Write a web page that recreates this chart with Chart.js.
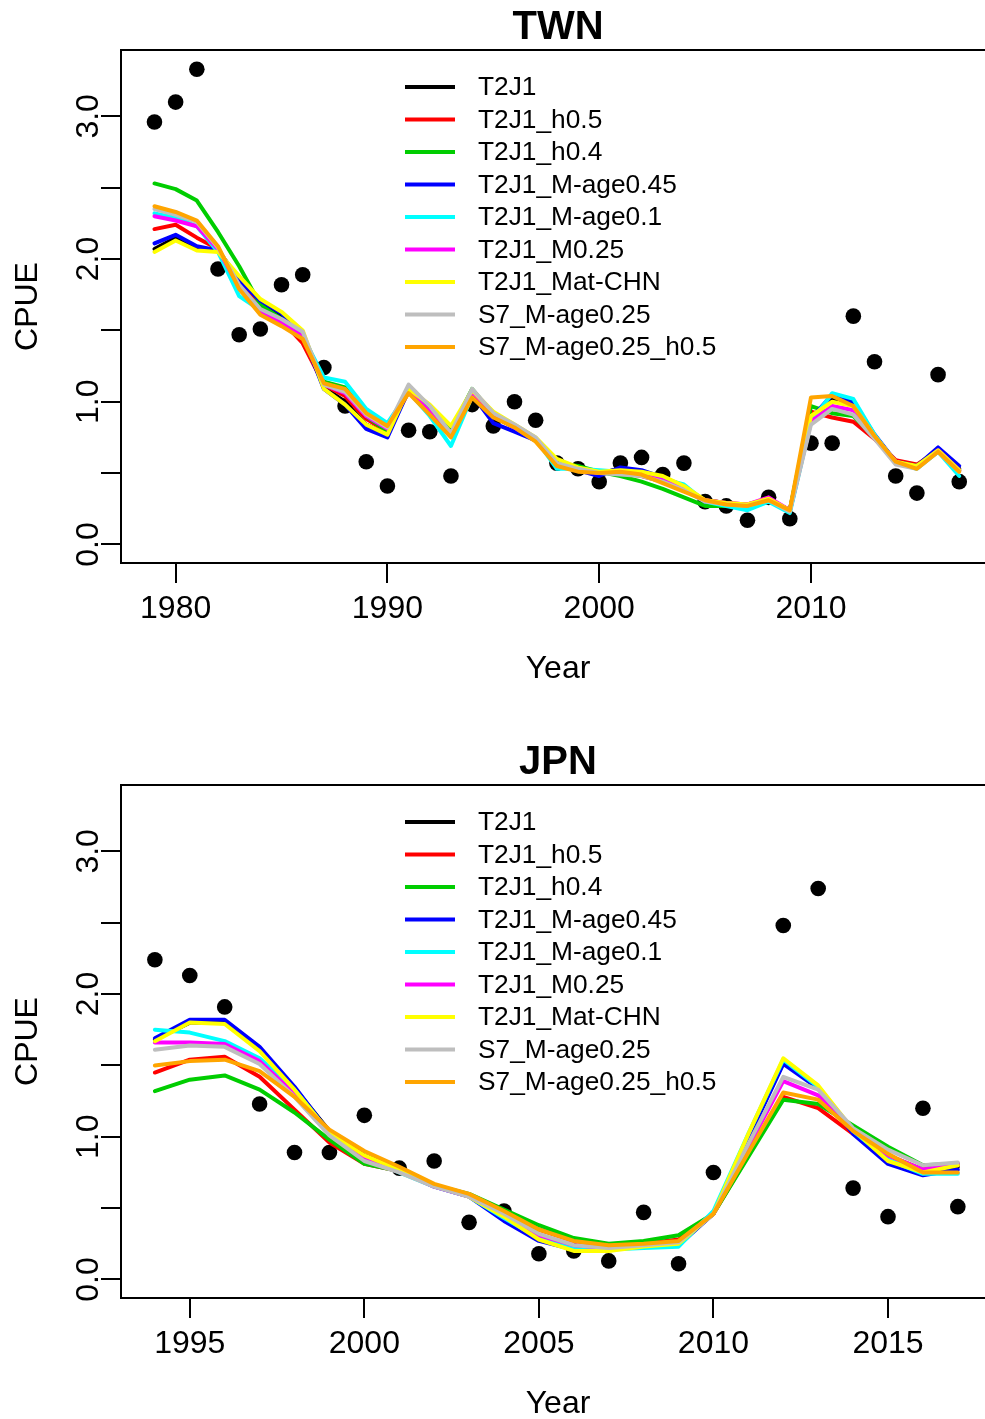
<!DOCTYPE html>
<html>
<head>
<meta charset="utf-8">
<script src="https://cdn.jsdelivr.net/npm/chart.js@4.4.1/dist/chart.umd.min.js"></script>
<style>
  html, body { margin: 0; padding: 0; background: #fff; width: 985px; height: 1419px; overflow: hidden; position: relative; }
  canvas { position: absolute; left: 0; }
  #twn { top: 0; }
  #jpn { top: 735px; }
</style>
</head>
<body>
<canvas id="twn" width="1000" height="735"></canvas>
<canvas id="jpn" width="1000" height="684"></canvas>
<script>
// model runs, same order as the legend
const runNames = ['T2J1', 'T2J1_h0.5', 'T2J1_h0.4', 'T2J1_M-age0.45', 'T2J1_M-age0.1',
    'T2J1_M0.25', 'T2J1_Mat-CHN', 'S7_M-age0.25', 'S7_M-age0.25_h0.5'];
const runColors = ['#000000', '#FF0000', '#00CD00', '#0000FF', '#00FFFF',
    '#FF00FF', '#FFFF00', '#BEBEBE', '#FFA500'];

const yTicks = [0, 0.5, 1, 1.5, 2, 2.5, 3];
const yLabels = [0, 1, 2, 3];

// ---- TWN ----
const twnYears = [];
for (let y = 1979; y <= 2017; y++) twnYears.push(y);
const twnXTicks = [1980, 1990, 2000, 2010];
const twnObs = [2.96, 3.10, 3.33, 1.93, 1.47, 1.51, 1.82, 1.89, 1.24, 0.97, 0.58, 0.41, 0.80, 0.79, 0.48, 0.98, 0.83, 1.00, 0.87, 0.57,
    0.53, 0.44, 0.57, 0.61, 0.49, 0.57, 0.30, 0.27, 0.17, 0.33, 0.18, 0.71, 0.71, 1.60, 1.28, 0.48, 0.36, 1.19, 0.44];
const twnT2J1 = [2.07, 2.15, 2.07, 2.06, 1.86, 1.70, 1.60, 1.47, 1.10, 1.00, 0.84, 0.77, 1.09, 0.95, 0.80, 1.06, 0.90, 0.82, 0.74, 0.58,
    0.53, 0.50, 0.53, 0.51, 0.46, 0.40, 0.31, 0.29, 0.27, 0.32, 0.24, 0.88, 1.02, 0.99, 0.76, 0.58, 0.54, 0.67, 0.53];
const twnH05 = [2.21, 2.24, 2.15, 2.07, 1.84, 1.67, 1.57, 1.41, 1.12, 1.04, 0.88, 0.79, 1.07, 0.95, 0.82, 1.06, 0.90, 0.82, 0.73, 0.56,
    0.52, 0.50, 0.50, 0.48, 0.44, 0.38, 0.31, 0.29, 0.28, 0.32, 0.24, 0.93, 0.89, 0.86, 0.74, 0.59, 0.56, 0.66, 0.52];
const twnH04 = [2.53, 2.49, 2.41, 2.19, 1.95, 1.68, 1.58, 1.47, 1.14, 1.10, 0.90, 0.79, 1.08, 0.94, 0.80, 1.09, 0.91, 0.83, 0.74, 0.57,
    0.55, 0.51, 0.48, 0.44, 0.39, 0.33, 0.27, 0.27, 0.27, 0.31, 0.24, 0.97, 0.92, 0.90, 0.75, 0.57, 0.54, 0.65, 0.52];
const twnMage045 = [2.11, 2.17, 2.09, 2.06, 1.85, 1.71, 1.62, 1.47, 1.09, 0.98, 0.81, 0.75, 1.08, 0.92, 0.78, 1.05, 0.85, 0.79, 0.73, 0.57,
    0.52, 0.48, 0.54, 0.52, 0.47, 0.41, 0.30, 0.28, 0.27, 0.32, 0.23, 0.88, 1.05, 1.00, 0.77, 0.58, 0.55, 0.68, 0.55];
const twnMage01 = [2.32, 2.29, 2.23, 2.05, 1.74, 1.64, 1.56, 1.46, 1.17, 1.14, 0.95, 0.85, 1.07, 0.90, 0.69, 1.04, 0.90, 0.83, 0.74, 0.53,
    0.53, 0.52, 0.51, 0.50, 0.46, 0.42, 0.30, 0.27, 0.24, 0.30, 0.22, 0.86, 1.06, 1.02, 0.77, 0.57, 0.53, 0.65, 0.48];
const twnM025 = [2.30, 2.27, 2.23, 2.07, 1.80, 1.63, 1.55, 1.46, 1.12, 1.06, 0.90, 0.81, 1.08, 0.93, 0.78, 1.07, 0.90, 0.82, 0.73, 0.56,
    0.52, 0.50, 0.51, 0.49, 0.45, 0.39, 0.31, 0.29, 0.28, 0.33, 0.24, 0.86, 0.97, 0.94, 0.75, 0.58, 0.54, 0.66, 0.52];
const twnMatCHN = [2.05, 2.13, 2.06, 2.05, 1.88, 1.72, 1.63, 1.50, 1.09, 0.98, 0.84, 0.77, 1.09, 0.98, 0.83, 1.08, 0.93, 0.84, 0.75, 0.60,
    0.54, 0.51, 0.52, 0.51, 0.48, 0.41, 0.31, 0.29, 0.28, 0.32, 0.24, 0.90, 1.00, 0.97, 0.76, 0.58, 0.55, 0.66, 0.52];
const twnS7 = [2.35, 2.31, 2.26, 2.08, 1.82, 1.65, 1.58, 1.49, 1.12, 1.07, 0.91, 0.82, 1.12, 0.97, 0.78, 1.09, 0.92, 0.84, 0.75, 0.57,
    0.53, 0.50, 0.49, 0.48, 0.44, 0.38, 0.30, 0.28, 0.27, 0.31, 0.23, 0.84, 0.95, 0.91, 0.74, 0.56, 0.53, 0.65, 0.51];
const twnS7h05 = [2.37, 2.33, 2.27, 2.09, 1.79, 1.61, 1.53, 1.44, 1.13, 1.09, 0.92, 0.83, 1.06, 0.91, 0.75, 1.03, 0.89, 0.82, 0.72, 0.55,
    0.51, 0.50, 0.51, 0.49, 0.43, 0.37, 0.31, 0.28, 0.27, 0.31, 0.24, 1.03, 1.04, 0.97, 0.76, 0.58, 0.53, 0.65, 0.51];

// ---- JPN ----
const jpnYears = [];
for (let y = 1994; y <= 2017; y++) jpnYears.push(y);
const jpnXTicks = [1995, 2000, 2005, 2010, 2015];
const jpnObs = [2.24, 2.13, 1.91, 1.23, 0.89, 0.89, 1.15, 0.78, 0.83, 0.40, 0.48, 0.18, 0.20, 0.13, 0.47, 0.11, 0.75, null,
    2.48, 2.74, 0.64, 0.44, 1.20, 0.51];
const jpnT2J1 = [1.68, 1.80, 1.80, 1.61, 1.34, 1.04, 0.87, 0.77, 0.66, 0.59, 0.44, 0.29, 0.21, 0.21, 0.24, 0.26, 0.46, 1.00,
    1.52, 1.35, 1.04, 0.83, 0.75, 0.79];
const jpnH05 = [1.45, 1.54, 1.56, 1.42, 1.19, 0.96, 0.81, 0.76, 0.66, 0.59, 0.47, 0.35, 0.27, 0.24, 0.25, 0.28, 0.46, 0.87,
    1.28, 1.20, 1.02, 0.87, 0.77, 0.80];
const jpnH04 = [1.32, 1.40, 1.43, 1.33, 1.17, 0.98, 0.81, 0.76, 0.66, 0.60, 0.49, 0.38, 0.29, 0.25, 0.27, 0.31, 0.46, 0.86,
    1.26, 1.23, 1.08, 0.93, 0.80, 0.81];
const jpnMage045 = [1.69, 1.82, 1.82, 1.63, 1.35, 1.03, 0.86, 0.76, 0.65, 0.58, 0.41, 0.27, 0.21, 0.21, 0.23, 0.24, 0.46, 0.99,
    1.51, 1.34, 1.02, 0.81, 0.73, 0.77];
const jpnMage01 = [1.75, 1.73, 1.67, 1.55, 1.33, 1.03, 0.86, 0.75, 0.65, 0.58, 0.43, 0.29, 0.22, 0.21, 0.22, 0.23, 0.48, 1.02,
    1.54, 1.35, 1.04, 0.84, 0.74, 0.74];
const jpnM025 = [1.66, 1.66, 1.65, 1.53, 1.30, 1.02, 0.85, 0.76, 0.65, 0.58, 0.45, 0.31, 0.24, 0.22, 0.24, 0.26, 0.46, 0.93,
    1.39, 1.29, 1.05, 0.87, 0.77, 0.81];
const jpnMatCHN = [1.67, 1.80, 1.79, 1.60, 1.33, 1.03, 0.87, 0.77, 0.66, 0.58, 0.44, 0.28, 0.20, 0.20, 0.23, 0.25, 0.46, 1.02,
    1.55, 1.36, 1.05, 0.83, 0.75, 0.80];
const jpnS7 = [1.61, 1.64, 1.63, 1.51, 1.28, 1.01, 0.83, 0.75, 0.65, 0.58, 0.46, 0.32, 0.24, 0.22, 0.24, 0.26, 0.46, 0.95,
    1.42, 1.33, 1.06, 0.91, 0.80, 0.82];
const jpnS7h05 = [1.50, 1.53, 1.54, 1.46, 1.28, 1.05, 0.90, 0.79, 0.67, 0.60, 0.48, 0.35, 0.27, 0.24, 0.25, 0.27, 0.46, 0.89,
    1.31, 1.26, 1.04, 0.88, 0.75, 0.75];

const FONT = '"Liberation Sans", Arial, Helvetica, sans-serif';

// R-style decorations: box, titles, tick labels, legend
const rDecor = {
    id: 'rDecor',
    afterDraw(chart, args, opts) {
        const ctx = chart.ctx;
        const a = chart.chartArea;
        const xs = chart.scales.x;
        const ys = chart.scales.y;
        const midX = (a.left + a.right) / 2;
        const midY = (a.top + a.bottom) / 2;
        ctx.save();
        ctx.strokeStyle = '#000';
        ctx.lineWidth = 2;
        ctx.strokeRect(a.left, a.top, a.right - a.left, a.bottom - a.top);

        ctx.fillStyle = '#000';
        ctx.textAlign = 'center';
        ctx.textBaseline = 'alphabetic';
        ctx.font = 'bold 40px ' + FONT;
        ctx.fillText(opts.title, midX + 2, 39);

        ctx.font = '32px ' + FONT;
        opts.xTicks.forEach(v => ctx.fillText(String(v), xs.getPixelForValue(v), a.bottom + 55));
        ctx.fillText('Year', midX + 2, a.bottom + 115);

        yLabels.forEach(v => {
            ctx.save();
            ctx.translate(a.left - 23, ys.getPixelForValue(v));
            ctx.rotate(-Math.PI / 2);
            ctx.fillText(v.toFixed(1), 0, 0);
            ctx.restore();
        });
        ctx.save();
        ctx.translate(37, midY);
        ctx.rotate(-Math.PI / 2);
        ctx.fillText('CPUE', 0, 0);
        ctx.restore();

        // legend, no box
        ctx.font = '26.3px ' + FONT;
        ctx.textAlign = 'left';
        ctx.textBaseline = 'middle';
        ctx.lineWidth = 4;
        runNames.forEach((name, i) => {
            const y = a.top + 37 + i * 32.5;
            ctx.strokeStyle = runColors[i];
            ctx.beginPath();
            ctx.moveTo(a.left + 284, y);
            ctx.lineTo(a.left + 334, y);
            ctx.stroke();
            ctx.fillStyle = '#000';
            ctx.fillText(name, a.left + 357, y + 1);
        });
        ctx.restore();
    }
};

function makeChart(id, title, years, xTicks, xMin, xMax, obs, runs) {
    const H = document.getElementById(id).height;
    const datasets = runs.map((vals, i) => ({
        label: runNames[i],
        data: years.map((yr, k) => ({ x: yr, y: vals[k] })),
        borderColor: runColors[i],
        backgroundColor: runColors[i],
        borderWidth: 4,
        pointRadius: 0,
        tension: 0,
        borderJoinStyle: 'round',
        borderCapStyle: 'round',
        order: runs.length - 1 - i
    }));
    datasets.push({
        label: 'obs',
        data: years.map((yr, k) => ({ x: yr, y: obs[k] })),
        showLine: false,
        pointRadius: 7.8,
        pointBorderWidth: 0,
        pointBackgroundColor: '#000',
        borderColor: '#000',
        order: runs.length + 1
    });

    return new Chart(document.getElementById(id), {
        type: 'line',
        data: { datasets: datasets },
        plugins: [rDecor],
        options: {
            responsive: false,
            animation: false,
            devicePixelRatio: 1,
            layout: { padding: { left: 0, top: 50, right: 9, bottom: 0 } },
            plugins: {
                legend: { display: false },
                tooltip: { enabled: false },
                rDecor: { title: title, xTicks: xTicks }
            },
            scales: {
                x: {
                    type: 'linear',
                    min: xMin,
                    max: xMax,
                    afterBuildTicks: s => { s.ticks = xTicks.map(v => ({ value: v })); },
                    afterFit: s => { s.height = H - 563; },
                    ticks: { callback: () => '', autoSkip: false },
                    grid: { drawOnChartArea: false, drawTicks: true, tickLength: 20, color: '#000', lineWidth: 2 },
                    border: { display: true, color: '#000', width: 2 }
                },
                y: {
                    min: -0.13,
                    max: 3.465,
                    afterBuildTicks: s => { s.ticks = yTicks.map(v => ({ value: v })); },
                    afterFit: s => { s.width = 121; },
                    ticks: { callback: () => '', autoSkip: false },
                    grid: { drawOnChartArea: false, drawTicks: true, tickLength: 20, color: '#000', lineWidth: 2 },
                    border: { display: true, color: '#000', width: 2 }
                }
            }
        }
    });
}

document.addEventListener('DOMContentLoaded', function () {
    makeChart('twn', 'TWN', twnYears, twnXTicks, 1977.42, 2018.5, twnObs,
        [twnT2J1, twnH05, twnH04, twnMage045, twnMage01, twnM025, twnMatCHN, twnS7, twnS7h05]);
    makeChart('jpn', 'JPN', jpnYears, jpnXTicks, 1993.03, 2017.95, jpnObs,
        [jpnT2J1, jpnH05, jpnH04, jpnMage045, jpnMage01, jpnM025, jpnMatCHN, jpnS7, jpnS7h05]);
});
</script>
</body>
</html>
